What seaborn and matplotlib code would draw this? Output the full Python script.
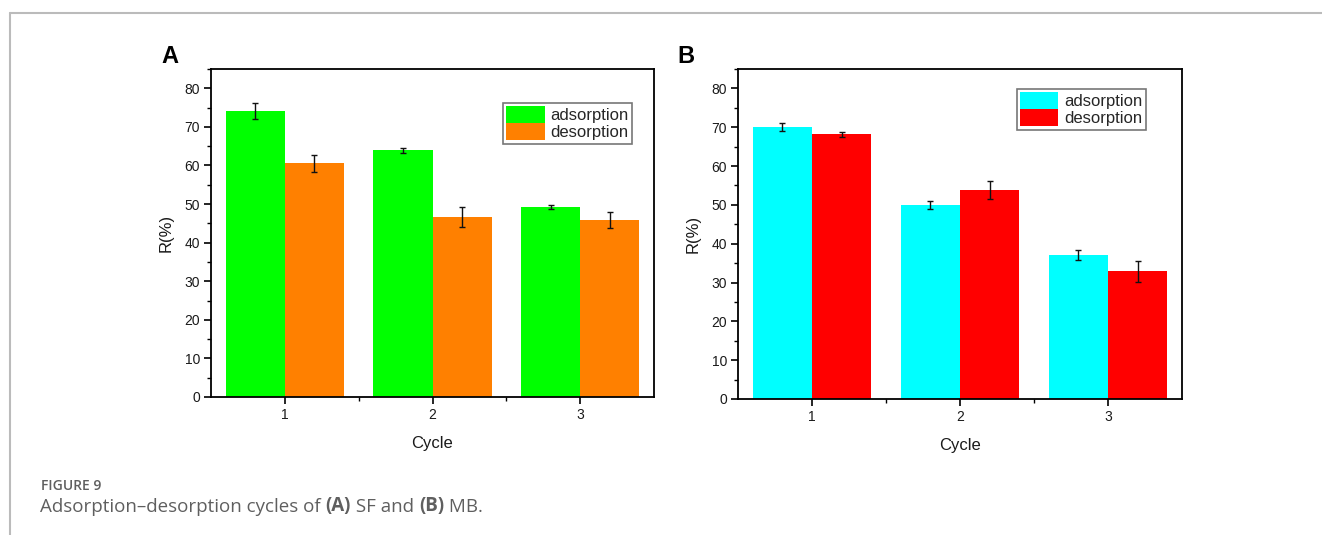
import matplotlib
matplotlib.use("Agg")
import matplotlib.pyplot as plt
import seaborn as sns
import pandas as pd
import numpy as np
from matplotlib.ticker import MultipleLocator
from matplotlib.lines import Line2D

cycles = ["1", "2", "3"]
series = ["adsorption", "desorption"]

sf_ads = [74.1, 63.9, 49.2]
sf_ads_err = [2.0, 0.7, 0.5]
sf_des = [60.6, 46.6, 45.8]
sf_des_err = [2.2, 2.6, 2.1]

mb_ads = [70.0, 50.0, 37.2]
mb_ads_err = [1.05, 1.0, 1.3]
mb_des = [68.2, 53.9, 32.9]
mb_des_err = [0.7, 2.3, 2.7]

sns.set_theme(style="white")
plt.rcParams['font.family'] = ['Liberation Sans', 'DejaVu Sans']

fig = plt.figure(figsize=(13.22, 5.35), dpi=100)


def panel(rect, ads, ads_err, des, des_err, colors, leg_anchor, label, label_xy):
    ax = fig.add_axes(rect)
    df = pd.DataFrame({
        "Cycle": cycles * 2,
        "R": list(ads) + list(des),
        "series": [series[0]] * 3 + [series[1]] * 3,
    })
    sns.barplot(data=df, x="Cycle", y="R", hue="series", order=cycles,
                hue_order=series, palette=colors, width=0.8, errorbar=None,
                saturation=1, ax=ax, linewidth=0)
    errs = list(ads_err) + list(des_err)
    vals = list(ads) + list(des)
    bars = [p for p in ax.patches if p.get_height() > 0][:6]
    for p, v, e in zip(bars, vals, errs):
        cx = p.get_x() + p.get_width() / 2
        ax.errorbar(cx, v, yerr=e, fmt="none", ecolor="#111111",
                    elinewidth=1.0, capsize=2.5, capthick=1.0)
    ax.set_xlim(-0.5, 2.5)
    ax.set_ylim(0, 85)
    ax.yaxis.set_major_locator(MultipleLocator(10))
    ax.yaxis.set_minor_locator(MultipleLocator(5))
    ax.set_xticks([0, 1, 2])
    ax.set_xticks([0.5, 1.5], minor=True)
    ax.tick_params(axis="both", which="major", direction="out", length=5,
                   width=1.2, color="black", labelsize=10, labelcolor="#1a1a1a",
                   left=True, bottom=True, pad=3)
    ax.tick_params(axis="both", which="minor", direction="out", length=3,
                   width=1.0, color="black", left=True, bottom=True)
    for s in ax.spines.values():
        s.set_color("black")
        s.set_linewidth(1.3)
    ax.set_xlabel("Cycle", fontsize=12, color="#1a1a1a", labelpad=10)
    ax.set_ylabel("R(%)", fontsize=12, color="#1a1a1a", labelpad=8)
    leg = ax.legend(loc="upper left", bbox_to_anchor=leg_anchor,
                    frameon=True, fancybox=False, edgecolor="#555555",
                    fontsize=12, handlelength=2.3, handleheight=1.15,
                    labelspacing=0.0, borderpad=0.2, handletextpad=0.35,
                    borderaxespad=0)
    leg.get_frame().set_linewidth(1.2)
    fig.text(label_xy[0], label_xy[1], label, fontsize=17, fontweight="bold",
             ha="center", va="center", color="black")
    return ax


axA = panel([211 / 1322, 1 - 397 / 535, 443 / 1322, 328 / 535],
            sf_ads, sf_ads_err, sf_des, sf_des_err, ["#00FF00", "#FF8000"],
            (0.659, 0.896), "A", (170 / 1322, 1 - 57 / 535))
axB = panel([738 / 1322, 1 - 399 / 535, 444 / 1322, 330 / 535],
            mb_ads, mb_ads_err, mb_des, mb_des_err, ["#00FFFF", "#FF0000"],
            (0.628, 0.939), "B", (686 / 1322, 1 - 57 / 535))

# frame lines
fig.add_artist(Line2D([9.5 / 1322, 1.0], [1 - 12.5 / 535] * 2,
                      transform=fig.transFigure, color="#bbbbbb", lw=1.5))
fig.add_artist(Line2D([9.5 / 1322] * 2, [0, 1 - 12.5 / 535],
                      transform=fig.transFigure, color="#bbbbbb", lw=1.5))

# caption
cap_color = "#5f5f5f"
cap_font = ["Open Sans", "DejaVu Sans"]
fig.text(41 / 1322, 1 - 486 / 535, "FIGURE 9", fontsize=10, color=cap_color,
         family=cap_font, fontweight="semibold", va="center")
pieces = [("Adsorption\u2013desorption cycles of ", "normal"), ("(A)", "bold"),
          (" SF and ", "normal"), ("(B)", "bold"), (" MB.", "normal")]
t = fig.text(40 / 1322, 1 - 507 / 535, pieces[0][0], fontsize=13.5, color=cap_color,
             family=cap_font, fontweight="normal", va="center")
prev = t
for s, w in pieces[1:]:
    prev = axA.annotate(s, xy=(1, 0), xycoords=prev, va="bottom", ha="left",
                        fontsize=13.5, color=cap_color, family=cap_font,
                        fontweight=("bold" if w == "bold" else "normal"),
                        annotation_clip=False)

fig.savefig("out.png", dpi=100)
